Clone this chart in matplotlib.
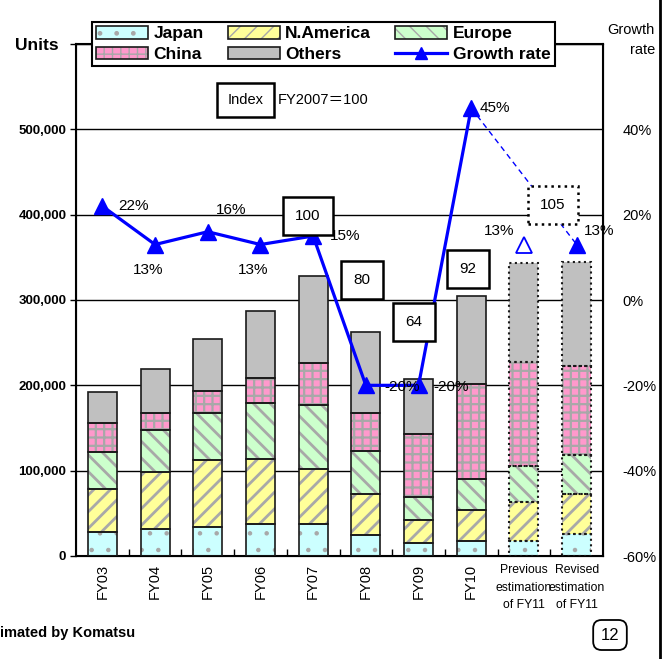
import matplotlib
matplotlib.use("Agg")
import matplotlib.pyplot as plt
from matplotlib.patches import Patch
from matplotlib.lines import Line2D
import numpy as np

plt.rcParams['font.family'] = ['Liberation Sans Narrow', 'Liberation Sans', 'Noto Sans CJK JP', 'DejaVu Sans']

# Данные (тыс. единиц)
categories = ['FY03', 'FY04', 'FY05', 'FY06', 'FY07', 'FY08', 'FY09', 'FY10',
              'Previous\nestimation\nof FY11', 'Revised\nestimation\nof FY11']
japan = [28, 32, 34, 38, 38, 25, 15, 18, 17, 26]
namerica = [50, 66, 79, 76, 64, 48, 27, 36, 46, 47]
europe = [44, 50, 55, 65, 75, 50, 27, 36, 43, 45]
china = [34, 19, 25, 30, 49, 45, 74, 112, 121, 105]
others = [36, 52, 61, 78, 102, 95, 64, 103, 116, 121]

growth = [22, 13, 16, 13, 15, -20, -20, 45]   # FY03..FY10
growth_prev = 13
growth_rev = 13
growth_labels = ['22%', '13%', '16%', '13%', '15%', '-20%', '-20%', '45%']

index_labels = ['100', '80', '64', '92', '105']
index_cats = [4, 5, 6, 7, 9]

regions = [
    ('Japan', japan, '#CCFFFF', '.', 0.8),
    ('N.America', namerica, '#FFFF99', '//', 2.0),
    ('Europe', europe, '#CCFFCC', '\\\\', 2.0),
    ('China', china, '#FF99CC', '++', 1.6),
    ('Others', others, '#C0C0C0', '', 1.0),
]

fig = plt.figure(figsize=(6.71, 6.59), dpi=100)
ax = fig.add_axes([76/671, 1-556/659, 527/671, 512/659])
ax2 = ax.twinx()

x = np.arange(len(categories))
w = 0.55
bottom = np.zeros(len(categories))
handles = {}
for name, vals, fc, hatch, hlw in regions:
    v = np.array(vals) * 1000
    with plt.rc_context({'hatch.linewidth': hlw}):
        ax.bar(x, v, w, bottom=bottom, color=fc, hatch=hatch, edgecolor='#A8A8A8',
               linewidth=0, zorder=2)
        hp = Patch(facecolor=fc, hatch=hatch, edgecolor='#A8A8A8', linewidth=0)
    for i in range(len(x)):
        ls = ':' if i >= 8 else '-'
        ax.bar(x[i], v[i], w, bottom=bottom[i], fill=False, edgecolor='#1a1a1a',
               linewidth=1.5 if i >= 8 else 1.2, linestyle=ls, zorder=3)
    bottom += v
    handles[name] = (hp, Patch(fill=False, edgecolor='#1a1a1a', linewidth=1.2))

ax.set_xlim(-0.5, 9.5)
ax.set_ylim(0, 600000)
ax.set_yticks(range(0, 600001, 100000))
ax.set_yticklabels(['0'] + ['{:,}'.format(v) for v in range(100000, 600001, 100000)][:-1] + [''],
                   fontsize=9.5, fontweight='bold')
ax.grid(axis='y', color='black', linewidth=1.0, zorder=0)
ax.set_axisbelow(True)
ax.tick_params(axis='y', length=4, width=1, pad=3)
ax.set_xticks(x)
ax.set_xticklabels(categories, fontsize=10.5, linespacing=1.6)
for i, lab in enumerate(ax.get_xticklabels()):
    if i < 8:
        lab.set_rotation(90)
    else:
        lab.set_fontsize(8.8)
ax.tick_params(axis='x', which='major', length=0, pad=6)
ax.set_xticks(x[:-1] + 0.5, minor=True)
ax.tick_params(axis='x', which='minor', direction='in', length=5, width=1)
for s in ax.spines.values():
    s.set_linewidth(1.5)

ax2.set_ylim(-60, 60)
ax2.set_yticks(range(-60, 41, 20))
ax2.set_yticklabels(['{}%'.format(v) for v in range(-60, 41, 20)], fontsize=10.5)
ax2.tick_params(axis='y', length=0, pad=14)

ax2.plot(x[:8], growth, color='#0000FF', linewidth=2.3, marker='^', markersize=11,
         zorder=4, clip_on=False)
ax2.plot([x[7], x[9]], [growth[7], growth_rev], color='#0000FF', linewidth=1,
         linestyle=(0, (4, 3)), zorder=3)
ax2.plot(x[9], growth_rev, color='#0000FF', marker='^', markersize=11, linestyle='none', zorder=4)
ax2.plot(x[8], growth_prev, marker='^', markersize=11, markerfacecolor='white',
         markeredgecolor='#0000FF', markeredgewidth=1.3, linestyle='none', zorder=4)

offsets = [(31, 0), (-7, -25), (23, 22), (-7, -25), (32, 0), (36, -2), (33, -2), (24, 0)]
for i, (lab, off) in enumerate(zip(growth_labels, offsets)):
    ax2.annotate(lab, (x[i], growth[i]), xytext=off, textcoords='offset pixels',
                 ha='center', va='center', fontsize=11, zorder=6)
ax2.annotate('13%', (x[8], growth_prev), xytext=(-25, 14), textcoords='offset pixels',
             ha='center', va='center', fontsize=11, zorder=6)
ax2.annotate('13%', (x[9], growth_rev), xytext=(22, 14), textcoords='offset pixels',
             ha='center', va='center', fontsize=11, zorder=6)

# индексные рамки
box_pos = [(-0.1, 19.7), (-0.07, 4.7), (-0.09, -5.2), (-0.06, 7.3), (-0.45, 22.3)]
for lab, c, (dx, yv) in zip(index_labels, index_cats, box_pos):
    ls = ':' if c == 9 else '-'
    ax2.text(x[c] + dx, yv, lab, ha='center', va='center', fontsize=11, zorder=7,
             bbox=dict(boxstyle='square,pad=0.8', facecolor='white', edgecolor='black',
                       linewidth=1.8, linestyle=ls))

ax2.text(2.72, 46.9, 'Index', ha='center', va='center', fontsize=10.5, zorder=7,
         bbox=dict(boxstyle='square,pad=0.7', facecolor='white', edgecolor='black', linewidth=1.8))
ax2.text(3.33, 46.9, 'FY2007＝100', ha='left', va='center', fontsize=10.5, zorder=7)

leg_handles = [handles['Japan'], handles['China'], handles['N.America'], handles['Others'],
               handles['Europe'],
               Line2D([], [], color='#0000FF', linewidth=2.3, marker='^', markersize=9)]
leg_labels = ['Japan', 'China', 'N.America', 'Others', 'Europe', 'Growth rate']
leg = ax2.legend(leg_handles, leg_labels, ncol=3, loc='center', bbox_to_anchor=(0.469, 1.0),
                 frameon=True, fancybox=False, edgecolor='black', framealpha=1,
                 prop={'weight': 'bold', 'size': 12.5}, handlelength=3.0, handleheight=0.75,
                 handletextpad=0.3, columnspacing=1.4, labelspacing=0.3, borderpad=0.25,
                 borderaxespad=0)
leg.get_frame().set_linewidth(1.5)
leg.set_zorder(10)

fig.text(15/671, 1-46/659, 'Units', fontsize=12.5, fontweight='bold', va='center', ha='left')
fig.text(655/671, 1-40/659, 'Growth\nrate', fontsize=10.5, va='center', ha='right',
         linespacing=1.6)
fig.text(0.0, 1-633/659, 'imated by Komatsu', fontsize=10.5, fontweight='bold',
         va='center', ha='left')
fig.text(610/671, 1-635/659, '12', fontsize=12, va='center', ha='center',
         bbox=dict(boxstyle='round,pad=0.45,rounding_size=0.5', facecolor='white',
                   edgecolor='black', linewidth=1.3))
fig.add_artist(Line2D([660/671, 660/671], [0, 1], color='black', linewidth=2,
                      transform=fig.transFigure))

fig.savefig('out.png', dpi=100)
